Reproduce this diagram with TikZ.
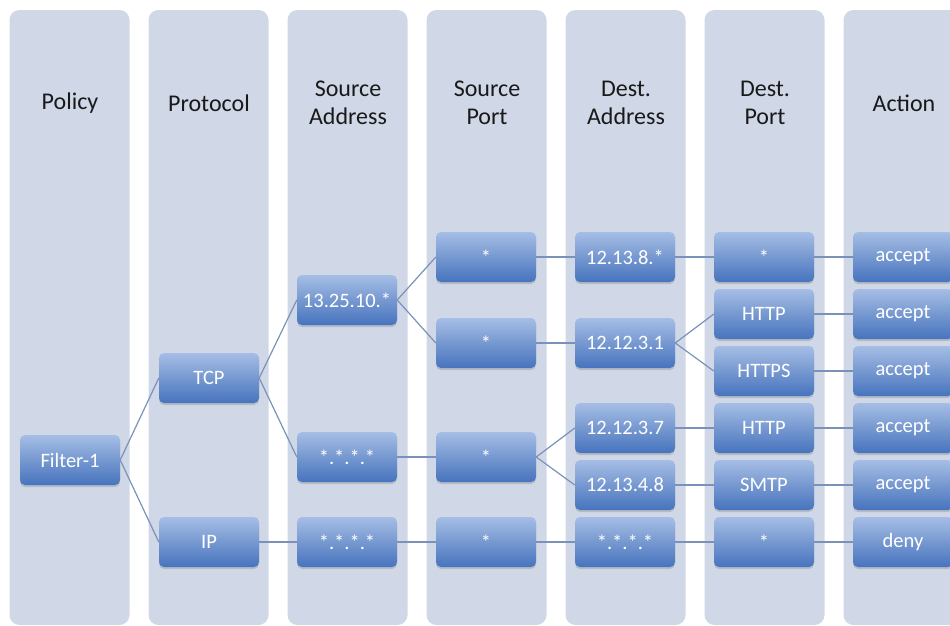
\documentclass[tikz,border=0pt]{standalone}
\usepackage{fontspec}
\setmainfont{Carlito}
\usetikzlibrary{shadows}
\definecolor{colbg}{RGB}{208,215,230}
\definecolor{boxtop}{RGB}{166,190,230}
\definecolor{boxmid}{RGB}{118,152,208}
\definecolor{boxbot}{RGB}{70,116,190}
\definecolor{linkc}{RGB}{122,146,186}
\tikzset{
  colbox/.style={fill=colbg, rounded corners=10pt},
  hdr/.style={font=\fontsize{24}{28}\selectfont, align=center, text=black!90},
  cell/.style={minimum width=100pt, minimum height=50pt, inner sep=0pt,
    rounded corners=5pt, top color=boxtop, bottom color=boxbot, middle color=boxmid,
    text=white, font=\fontsize{20.5}{22}\selectfont,
    drop shadow={shadow xshift=0pt, shadow yshift=-2pt, opacity=0.25, fill=black!60}},
  link/.style={draw=linkc, line width=1.2pt}
}
\begin{document}
\begin{tikzpicture}[x=1pt,y=-1pt]
\useasboundingbox (0,0) rectangle (950,625);
% columns
\foreach \i in {0,...,6} {
  \fill[colbox] ({9.5+139*\i},10) rectangle ({129.5+139*\i},625);
}
% headers
\node[hdr] (h1) at (70,103) {Policy};
\node[hdr] (h2) at (209,103) {Protocol};
\node[hdr] (h3) at (348,103) {Source\\Address};
\node[hdr] (h4) at (487,103) {Source\\Port};
\node[hdr] (h5) at (626,103) {Dest.\\Address};
\node[hdr] (h6) at (765,103) {Dest.\\Port};
\node[hdr] (h7) at (904,103) {Action};
% cells
\node[cell] (f1) at (70,460) {Filter-1};
\node[cell] (tcp) at (209,378) {TCP};
\node[cell] (ip) at (209,542) {IP};
\node[cell] (sa1) at (347,300) {13.25.10.*};
\node[cell] (sa2) at (347,457) {*.*.*.*};
\node[cell] (sa3) at (347,542) {*.*.*.*};
\node[cell] (sp1) at (486,257) {*};
\node[cell] (sp2) at (486,343) {*};
\node[cell] (sp3) at (486,457) {*};
\node[cell] (sp4) at (486,542) {*};
\node[cell] (da1) at (625,257) {12.13.8.*};
\node[cell] (da2) at (625,343) {12.12.3.1};
\node[cell] (da3) at (625,428) {12.12.3.7};
\node[cell] (da4) at (625,485) {12.13.4.8};
\node[cell] (da5) at (625,542) {*.*.*.*};
\node[cell] (dp1) at (764,257) {*};
\node[cell] (dp2) at (764,314) {HTTP};
\node[cell] (dp3) at (764,371) {HTTPS};
\node[cell] (dp4) at (764,428) {HTTP};
\node[cell] (dp5) at (764,485) {SMTP};
\node[cell] (dp6) at (764,542) {*};
\node[cell] (a1) at (903,257) {accept};
\node[cell] (a2) at (903,314) {accept};
\node[cell] (a3) at (903,371) {accept};
\node[cell] (a4) at (903,428) {accept};
\node[cell] (a5) at (903,485) {accept};
\node[cell] (a6) at (903,542) {deny};
% links
\draw[link] (f1.east) -- (tcp.west);
\draw[link] (f1.east) -- (ip.west);
\draw[link] (tcp.east) -- (sa1.west);
\draw[link] (tcp.east) -- (sa2.west);
\draw[link] (ip.east) -- (sa3.west);
\draw[link] (sa1.east) -- (sp1.west);
\draw[link] (sa1.east) -- (sp2.west);
\draw[link] (sa2.east) -- (sp3.west);
\draw[link] (sa3.east) -- (sp4.west);
\draw[link] (sp1.east) -- (da1.west);
\draw[link] (sp2.east) -- (da2.west);
\draw[link] (sp3.east) -- (da3.west);
\draw[link] (sp3.east) -- (da4.west);
\draw[link] (sp4.east) -- (da5.west);
\draw[link] (da1.east) -- (dp1.west);
\draw[link] (da2.east) -- (dp2.west);
\draw[link] (da2.east) -- (dp3.west);
\draw[link] (da3.east) -- (dp4.west);
\draw[link] (da4.east) -- (dp5.west);
\draw[link] (da5.east) -- (dp6.west);
\draw[link] (dp1.east) -- (a1.west);
\draw[link] (dp2.east) -- (a2.west);
\draw[link] (dp3.east) -- (a3.west);
\draw[link] (dp4.east) -- (a4.west);
\draw[link] (dp5.east) -- (a5.west);
\draw[link] (dp6.east) -- (a6.west);
\end{tikzpicture}
\end{document}
